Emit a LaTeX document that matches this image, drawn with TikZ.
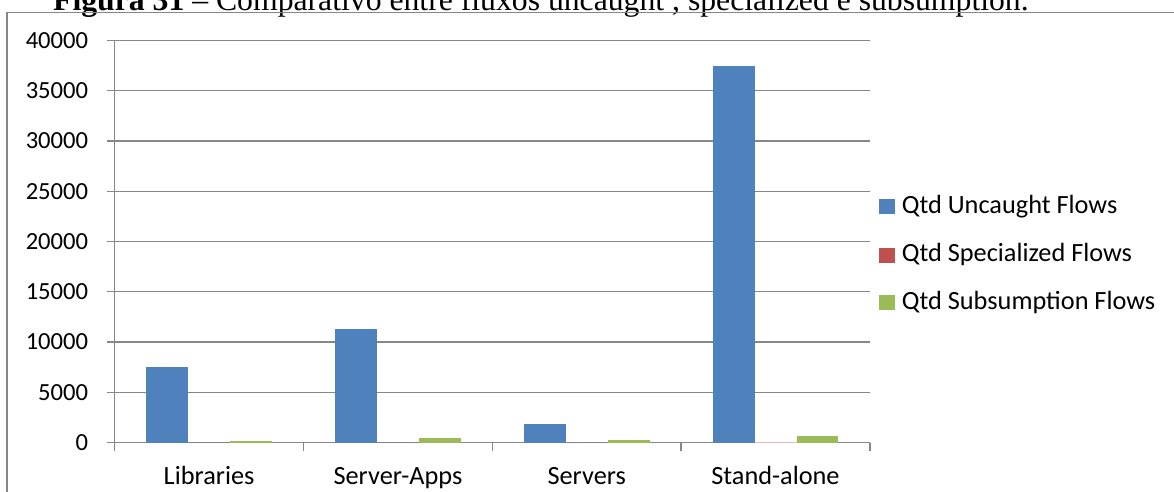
\documentclass[tikz,border=0pt]{standalone}
\usepackage{fontspec}
\setmainfont{Carlito}
\newfontfamily\titlefont{Liberation Serif}
\definecolor{uncaught}{HTML}{4F81BD}
\definecolor{specialized}{HTML}{C0504D}
\definecolor{subsumption}{HTML}{9BBB59}
\definecolor{gridgray}{HTML}{878787}
\definecolor{framegray}{HTML}{868686}

\begin{document}
\begin{tikzpicture}[x=1pt,y=-1pt,
  gridline/.style={draw=gridgray, line width=1.3pt},
  framebox/.style={draw=framegray, line width=1.5pt},
  lbl/.style={inner sep=0pt, font=\fontsize{26.3}{31}\selectfont},
  vallbl/.style={inner sep=0pt, font=\fontsize{24.6}{29}\selectfont},
  ttl/.style={inner sep=0pt, font=\titlefont\fontsize{31.7}{37}\selectfont}]
\useasboundingbox (0,0) rectangle (1174,491);
\clip (0,0) rectangle (1174,491);

% figure caption (its upper part falls outside the page)
\node[ttl, anchor=base west] (caption) at (53,10)
  {\textbf{Figura 31} – Comparativo entre fluxos uncaught , specialized e subsumption.};

% chart frame
\draw[framebox] (7,500) -- (7,12.7) -- (1180,12.7);

% value gridlines and axis labels (values in thousands, 10.05 pt per thousand)
\foreach \v/\t in {0/0,5/5000,10/10000,15/15000,20/20000,25/25000,30/30000,35/35000,40/40000}{
  \pgfmathsetmacro{\yy}{442.5-\v*10.05}
  \draw[gridline] (106.7,\yy) -- (870,\yy);
  \node[vallbl, anchor=east] (val\t) at (88.3,\yy) {\t};
}
% vertical axis
\draw[gridline] (114.7,{442.5-40*10.05}) -- (114.7,450.7);

% category ticks
\foreach \i in {1,2,3,4}{
  \pgfmathsetmacro{\xx}{114.7+\i*188.8}
  \draw[gridline] (\xx,442.5) -- (\xx,450.7);
}

% bars: category index / uncaught / specialized / subsumption (thousands)
\foreach \i/\a/\b/\c in {0/7.512/0/0.150, 1/11.264/0/0.418, 2/1.840/0/0.250, 3/37.5/0.05/0.677}{
  \pgfmathsetmacro{\xa}{114.7+\i*188.8+31.5}
  \pgfmathsetmacro{\xb}{\xa+41.95}
  \pgfmathsetmacro{\xc}{\xb+41.95}
  \pgfmathsetmacro{\xd}{\xc+41.95}
  \fill[uncaught] (\xa,442.5) rectangle (\xb,{442.5-\a*10.05});
  \fill[specialized!40] (\xb,442.5) rectangle (\xc,{442.5-\b*10.05});
  \fill[subsumption] (\xc,442.5) rectangle (\xd,{442.5-\c*10.05});
}

% category labels
\node[lbl, anchor=base] (libraries)  at (209.1,484.3) {Libraries};
\node[lbl, anchor=base] (serverapps) at (397.9,484.3) {Server-Apps};
\node[lbl, anchor=base] (servers)    at (586.7,484.3) {Servers};
\node[lbl, anchor=base] (standalone) at (775.5,484.3) {Stand-alone};

% legend
\fill[uncaught]    (879,199.2) rectangle (895,214.2);
\fill[specialized] (879,247.7) rectangle (895,262.7);
\fill[subsumption] (879,294.5) rectangle (895,309.5);
\node[lbl, anchor=base west] (leg1) at (901.7,213.5) {Qtd Uncaught Flows};
\node[lbl, anchor=base west] (leg2) at (901.7,261.6) {Qtd Specialized Flows};
\node[lbl, anchor=base west] (leg3) at (901.7,309.2) {Qtd Subsumption Flows};
\end{tikzpicture}
\end{document}
